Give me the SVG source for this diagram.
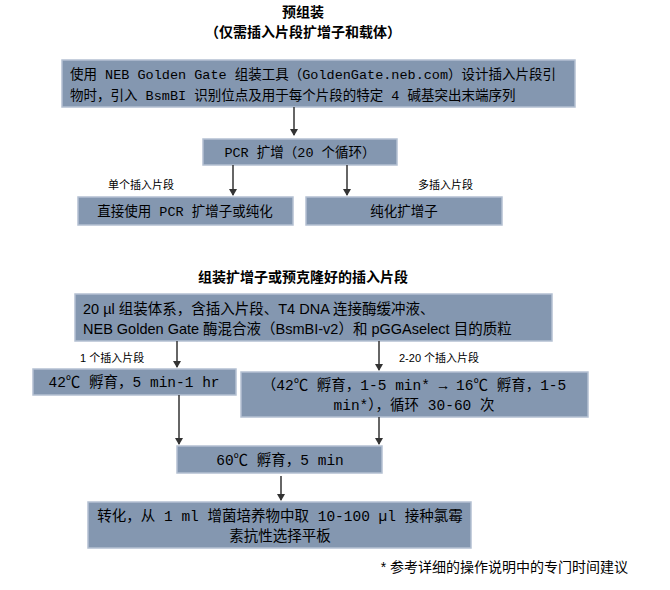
<svg xmlns="http://www.w3.org/2000/svg" width="670" height="590" viewBox="0 0 670 590">
<style>
.b{fill:#8497b0;stroke:#b4c0d2;stroke-width:1.5}
.t{font-family:"Liberation Mono","Noto Sans CJK SC",monospace;font-size:13.5px;fill:#000}
.u{font-family:"Liberation Mono","Noto Sans CJK SC",monospace;font-size:14.5px;fill:#000}
.s{font-family:"Liberation Sans","Noto Sans CJK SC",sans-serif;font-size:11px;fill:#000}
.h{font-family:"Liberation Sans","Noto Sans CJK SC",sans-serif;font-size:14px;font-weight:bold;fill:#000}
.c{stroke:#333;stroke-width:1.5;fill:none;marker-end:url(#a)}
</style>
<defs><marker id="a" markerWidth="8" markerHeight="8" refX="6" refY="4" orient="auto" markerUnits="userSpaceOnUse"><path d="M0,0L7,4L0,8z" fill="#333"/></marker></defs>
<rect width="670" height="590" fill="#fff"/>
<text class="h" x="303" y="17" text-anchor="middle">预组装</text>
<text class="h" x="303" y="37" text-anchor="middle">（仅需插入片段扩增子和载体）</text>
<g id="n1"><rect class="b" x="62" y="60" width="513" height="47"/><text class="t" x="70" y="79">使用 NEB Golden Gate 组装工具（GoldenGate.neb.com）设计插入片段引</text><text class="t" x="70" y="100">物时，引入 BsmBI 识别位点及用于每个片段的特定 4 碱基突出末端序列</text></g>
<g id="n2"><rect class="b" x="203" y="139" width="194" height="26"/><text class="t" x="300" y="157" text-anchor="middle">PCR 扩增（20 个循环）</text></g>
<g id="n3"><rect class="b" x="78" y="197" width="215" height="28"/><text class="t" x="185" y="216" text-anchor="middle">直接使用 PCR 扩增子或纯化</text></g>
<g id="n4"><rect class="b" x="306" y="197" width="196" height="28"/><text class="t" x="404" y="216" text-anchor="middle">纯化扩增子</text></g>
<text class="s" x="108" y="189">单个插入片段</text>
<text class="s" x="418" y="189">多插入片段</text>
<text class="h" x="303" y="282" text-anchor="middle">组装扩增子或预克隆好的插入片段</text>
<g id="n5"><rect class="b" x="75" y="294" width="477" height="47"/><text class="s" x="83" y="314" style="font-size:14.5px">20 µl 组装体系，含插入片段、T4 DNA 连接酶缓冲液、</text><text class="s" x="83" y="334" style="font-size:14.5px">NEB Golden Gate 酶混合液（BsmBI-v2）和 pGGAselect 目的质粒</text></g>
<text class="s" x="80" y="362">1 个插入片段</text>
<text class="s" x="399" y="362">2-20 个插入片段</text>
<g id="n6"><rect class="b" x="33" y="369" width="203" height="26"/><text class="u" x="134" y="387" text-anchor="middle">42℃ 孵育，5 min-1 hr</text></g>
<g id="n7"><rect class="b" x="241" y="372" width="347" height="45"/><text class="u" x="414" y="390" text-anchor="middle">（42℃ 孵育，1-5 min* → 16℃ 孵育，1-5</text><text class="u" x="414" y="410" text-anchor="middle">min*），循环 30-60 次</text></g>
<g id="n8"><rect class="b" x="177" y="446" width="205" height="27"/><text class="u" x="280" y="465" text-anchor="middle">60℃ 孵育，5 min</text></g>
<g id="n9"><rect class="b" x="88" y="502" width="383" height="46"/><text class="u" x="280" y="521" text-anchor="middle">转化，从 1 ml 增菌培养物中取 10-100 µl 接种氯霉</text><text class="u" x="280" y="541" text-anchor="middle">素抗性选择平板</text></g>
<text class="s" x="628" y="572" text-anchor="end" style="font-size:14px">* 参考详细的操作说明中的专门时间建议</text>
<g id="connectors">
<path class="c" d="M294,107V135"/>
<path class="c" d="M233,165V195"/>
<path class="c" d="M347,165V195"/>
<path class="c" d="M177,341V367"/>
<path class="c" d="M379,341V370"/>
<path class="c" d="M179,395V444"/>
<path class="c" d="M379,417V444"/>
<path class="c" d="M281,476V500"/>
</g>
</svg>
